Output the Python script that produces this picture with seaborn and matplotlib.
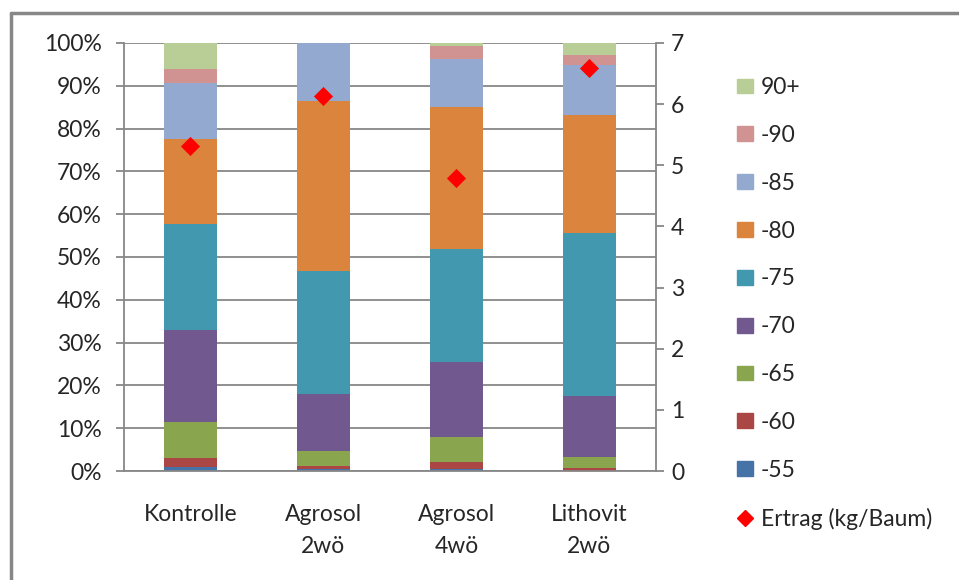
import matplotlib
matplotlib.use("Agg")
import matplotlib.pyplot as plt
import matplotlib.patches as mpatches
from matplotlib.lines import Line2D
import numpy as np
import pandas as pd
import seaborn as sns

# categories and size-class shares (%)
categories = ["Kontrolle", "Agrosol\n2wö", "Agrosol\n4wö", "Lithovit\n2wö"]
classes = ["-55", "-60", "-65", "-70", "-75", "-80", "-85", "-90", "90+"]
s55 = [0.9, 0.5, 0.5, 0.0]
s60 = [2.1, 0.75, 1.6, 0.7]
s65 = [8.5, 3.45, 5.8, 2.6]
s70 = [21.5, 13.3, 17.6, 14.3]
s75 = [24.8, 28.8, 26.4, 37.9]
s80 = [19.7, 39.7, 33.2, 27.7]
s85 = [13.1, 13.5, 11.1, 11.6]
s90 = [3.4, 0.0, 3.2, 2.5]
s90p = [6.0, 0.0, 0.6, 2.7]
ertrag = [5.31, 6.14, 4.79, 6.59]

colors = ["#4572a7", "#aa4643", "#89a54e", "#71588f", "#4198af",
          "#db843d", "#93a9cf", "#d19392", "#b9cd96"]

series = [s55, s60, s65, s70, s75, s80, s85, s90, s90p]
cum = np.cumsum(np.array(series), axis=0)

sns.set_style("white")
plt.rcParams["font.family"] = ["Lato", "DejaVu Sans"]
plt.rcParams["font.size"] = 16.5

fig = plt.figure(figsize=(9.59, 5.80), dpi=100)
ax = fig.add_axes([0.1293, 0.1879, 0.5547, 0.738])
grid_c = "#878787"

# stacked bars: draw cumulative totals from top down
for i in range(len(classes) - 1, -1, -1):
    df = pd.DataFrame({"cat": categories, "val": cum[i]})
    sns.barplot(data=df, x="cat", y="val", color=colors[i], saturation=1,
                width=0.4, ax=ax, zorder=2, edgecolor=colors[i], linewidth=0)

ax.set_xlim(-0.5, 3.5)
ax.set_ylim(0, 100)
ax.set_yticks(np.arange(0, 101, 10))
ax.set_yticklabels([f"{v}%" for v in range(0, 101, 10)])
ax.yaxis.grid(True, color=grid_c, linewidth=1.3, zorder=0)
ax.set_axisbelow(True)
ax.set_xlabel("")
ax.set_ylabel("")
ax.set_xticks([0, 1, 2, 3])
ax.set_xticklabels(categories, linespacing=1.6, va="top")
ax.tick_params(axis="x", length=0, pad=24)
# category boundary ticks
ax.set_xticks([-0.5, 0.5, 1.5, 2.5, 3.5], minor=True)
ax.tick_params(axis="x", which="minor", length=6, color=grid_c, width=1.3)
ax.tick_params(axis="y", length=6, color=grid_c, width=1.3, pad=10)
for side in ["top", "right"]:
    ax.spines[side].set_visible(False)
for side in ["left", "bottom"]:
    ax.spines[side].set_color(grid_c)
    ax.spines[side].set_linewidth(1.3)

# yield on secondary axis
ax2 = ax.twinx()
sns.scatterplot(x=[0, 1, 2, 3], y=ertrag, marker="D", color="#ff0000",
                s=95, edgecolor="#ff0000", linewidth=0, ax=ax2, zorder=5)
ax2.set_ylim(0, 7)
ax2.set_yticks(range(0, 8))
ax2.tick_params(axis="y", length=6, color=grid_c, width=1.3, pad=5)
for side in ["top", "left", "bottom"]:
    ax2.spines[side].set_visible(False)
ax2.spines["right"].set_color(grid_c)
ax2.spines["right"].set_linewidth(1.3)
ax2.set_ylabel("")

# legend
handles = [mpatches.Patch(color=colors[i], label=classes[i])
           for i in range(len(classes) - 1, -1, -1)]
handles.append(Line2D([], [], marker="D", color="#ff0000", linestyle="none",
                      markersize=8, label="Ertrag (kg/Baum)"))
fig.legend(handles=handles, loc="upper left", bbox_to_anchor=(0.768, 0.867),
           frameon=False, borderpad=0, borderaxespad=0, handlelength=0.72,
           handleheight=0.62, handletextpad=0.35, labelspacing=1.17,
           fontsize=16.5)

# outer chart border (top and left visible)
fig.add_artist(Line2D([11 / 959, 1], [1 - 13 / 580, 1 - 13 / 580],
                      transform=fig.transFigure, color=grid_c, linewidth=2.5))
fig.add_artist(Line2D([11 / 959, 11 / 959], [0, 1 - 13 / 580],
                      transform=fig.transFigure, color=grid_c, linewidth=2.5))

fig.savefig("out.png", dpi=100)
